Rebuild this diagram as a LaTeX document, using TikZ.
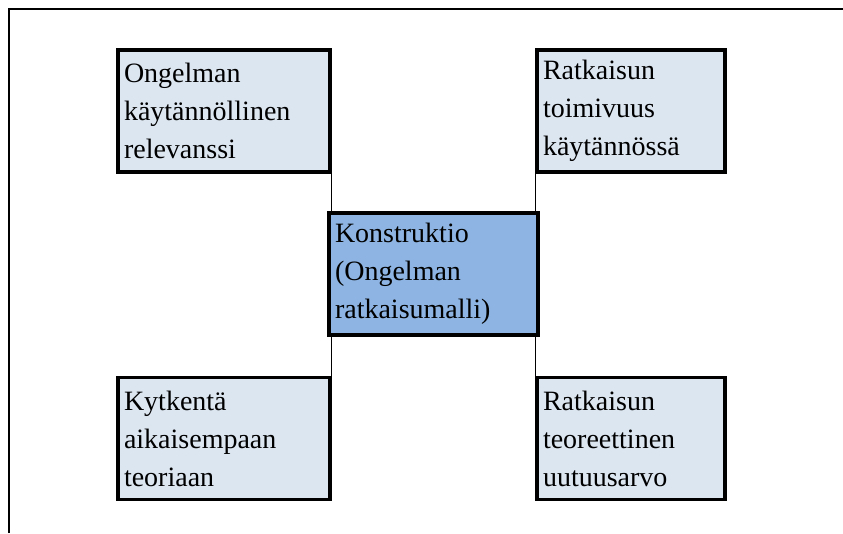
\documentclass[tikz,border=0pt]{standalone}
\usepackage{fontspec}
\setmainfont{Liberation Serif}
\usetikzlibrary{positioning}
\definecolor{lightbox}{HTML}{DCE6F1}
\definecolor{corebox}{HTML}{8DB4E2}
\tikzset{
	side/.style={draw, line width=3.5pt, fill=lightbox, align=left, text width=#1,
		minimum height=122pt, inner xsep=6pt, font=\fontsize{28}{38}\selectfont},
	core/.style={side=#1, fill=corebox},
	link/.style={line width=1pt}
}

\begin{document}
\begin{tikzpicture}[x=1pt, y=1pt, node distance=163pt and 209.5pt, on grid]
	\useasboundingbox (0,0) rectangle (843,533);
	\draw[line width=2.5pt] (9,0) -- (9,524) -- (843,524);
	\node[core=197pt] (k) at (433.5,259) {Konstruktio\\(Ongelman\\ratkaisumalli)};
	\node[side=200pt] (ov) [above left=of k] {Ongelman\\käytännöllinen\\relevanssi};
	\node[side=176pt] (rt) [above right=163pt and 197.5pt of k] {Ratkaisun\\toimivuus\\käytännössä};
	\node[side=200pt] (ky) [below left=164.5pt and 209.5pt of k] {Kytkentä\\aikaisempaan\\teoriaan};
	\node[side=176pt] (ru) [below right=164.5pt and 197.5pt of k] {Ratkaisun\\teoreettinen\\uutuusarvo};
	\draw[link] (ov.south east) -- (ov.south east |- k.north);
	\draw[link] (rt.south west) -- (rt.south west |- k.north);
	\draw[link] (ky.north east) -- (ky.north east |- k.south);
	\draw[link] (ru.north west) -- (ru.north west |- k.south);
\end{tikzpicture}
\end{document}
